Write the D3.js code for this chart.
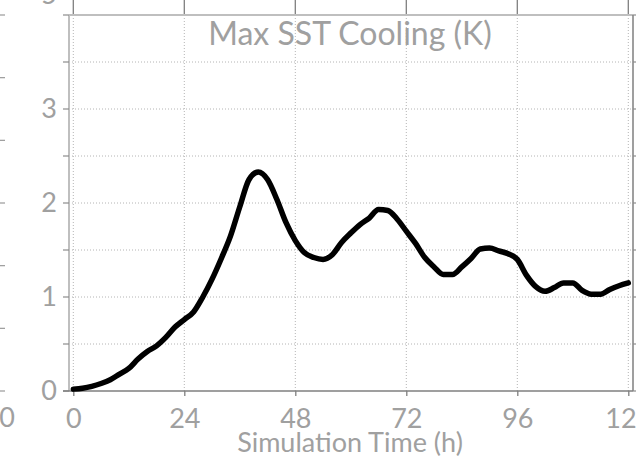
<!DOCTYPE html>
<html>
<head>
<meta charset="utf-8">
<script src="https://cdnjs.cloudflare.com/ajax/libs/d3/7.8.5/d3.min.js"></script>
<style>
  body { margin: 0; background: #fff; }
  svg { display: block; font-family: Lato, "Open Sans", sans-serif; }
</style>
</head>
<body>
<div id="chart"></div>
<script>
// Max SST cooling over simulation time
var hours = [0, 2, 4, 6, 8, 10, 12, 14, 16, 18, 20, 22, 24, 26, 28, 30, 32, 34, 36, 38,
  40, 42, 44, 46, 48, 50, 52, 54, 56, 58, 60, 62, 64, 66, 68, 70, 72, 74, 76, 78,
  80, 82, 84, 86, 88, 90, 92, 94, 96, 98, 100, 102, 104, 106, 108, 110, 112, 114, 116, 118, 120];
var cooling = [0.02, 0.03, 0.05, 0.08, 0.12, 0.18, 0.24, 0.34, 0.42, 0.48, 0.57, 0.68, 0.76, 0.84, 1.00, 1.19, 1.41, 1.65, 1.96, 2.25,
  2.33, 2.25, 2.04, 1.79, 1.60, 1.47, 1.42, 1.40, 1.45, 1.58, 1.68, 1.77, 1.84, 1.93, 1.92, 1.83, 1.70, 1.57, 1.42, 1.32,
  1.24, 1.24, 1.32, 1.41, 1.51, 1.52, 1.49, 1.46, 1.40, 1.23, 1.11, 1.06, 1.10, 1.15, 1.15, 1.07, 1.03, 1.03, 1.08, 1.12, 1.15];
var xTicks = [0, 24, 48, 72, 96, 120];
var yTicks = [0, 0.5, 1, 1.5, 2, 2.5, 3, 3.5, 4];
var yLabels = [0, 1, 2, 3];
var title = "Max SST Cooling (K)";
var xTitle = "Simulation Time (h)";

var width = 636, height = 461;
var frame = {left: 69, right: 633, top: 15, bottom: 391};
var textColor = "#a0a0a0";

var svg = d3.select("#chart").append("svg")
  .attr("width", width)
  .attr("height", height);

var x = d3.scaleLinear().domain([0, 120]).range([73.3, 628.3]);
var y = d3.scaleLinear().domain([0, 4]).range([frame.bottom, frame.top]);

// bits of the neighbouring panels that show at the edges
var nb = d3.scaleLinear().domain([0, 6]).range([frame.bottom, frame.top]);
svg.append("g").selectAll("line")
  .data(d3.range(0, 7))
  .enter().append("line")
    .attr("x1", 0).attr("x2", 5)
    .attr("y1", function(d) { return nb(d); })
    .attr("y2", function(d) { return nb(d); })
    .attr("stroke", "#9a9a9a").attr("stroke-width", 1.2);
svg.append("text")
  .attr("x", 15).attr("y", 427)
  .attr("text-anchor", "end")
  .attr("font-size", 27).attr("fill", textColor)
  .text("120");
svg.append("text")
  .attr("x", 57).attr("y", 4)
  .attr("text-anchor", "end")
  .attr("font-size", 27).attr("fill", textColor)
  .text("5");
svg.append("g").selectAll("line")
  .data(xTicks)
  .enter().append("line")
    .attr("x1", function(d) { return x(d); })
    .attr("x2", function(d) { return x(d); })
    .attr("y1", 0).attr("y2", frame.top)
    .attr("stroke", "#7f7f7f").attr("stroke-width", 1.3);

// grid
svg.append("g").selectAll("line")
  .data(yTicks.filter(function(d) { return d > 0 && d < 4; }))
  .enter().append("line")
    .attr("x1", frame.left).attr("x2", frame.right)
    .attr("y1", function(d) { return y(d); })
    .attr("y2", function(d) { return y(d); })
    .attr("stroke", "#b4b4b4").attr("stroke-width", 1)
    .attr("stroke-dasharray", "1,2");
svg.append("g").selectAll("line")
  .data(xTicks)
  .enter().append("line")
    .attr("x1", function(d) { return x(d); })
    .attr("x2", function(d) { return x(d); })
    .attr("y1", frame.top).attr("y2", frame.bottom)
    .attr("stroke", "#b4b4b4").attr("stroke-width", 1)
    .attr("stroke-dasharray", "1,2");

// frame
svg.append("line")
  .attr("x1", frame.left).attr("x2", frame.right)
  .attr("y1", frame.top).attr("y2", frame.top)
  .attr("stroke", "#bfbfbf").attr("stroke-width", 2);
svg.append("line")
  .attr("x1", frame.left).attr("x2", frame.left)
  .attr("y1", frame.top).attr("y2", frame.bottom)
  .attr("stroke", "#bfbfbf").attr("stroke-width", 2);
svg.append("line")
  .attr("x1", frame.right).attr("x2", frame.right)
  .attr("y1", frame.top).attr("y2", frame.bottom)
  .attr("stroke", "#7f7f7f").attr("stroke-width", 1.5);

// y ticks, left and right
svg.append("g").selectAll("line")
  .data(yTicks)
  .enter().append("line")
    .attr("x1", frame.left - 6).attr("x2", frame.left)
    .attr("y1", function(d) { return y(d); })
    .attr("y2", function(d) { return y(d); })
    .attr("stroke", "#8c8c8c").attr("stroke-width", 1.2);
svg.append("g").selectAll("line")
  .data(yTicks)
  .enter().append("line")
    .attr("x1", frame.right).attr("x2", width)
    .attr("y1", function(d) { return y(d); })
    .attr("y2", function(d) { return y(d); })
    .attr("stroke", "#8c8c8c").attr("stroke-width", 1.2);

// x axis
var xAxis = svg.append("g")
  .attr("transform", "translate(0," + frame.bottom + ")")
  .call(d3.axisBottom(x).tickValues(xTicks).tickSize(5).tickSizeOuter(0).tickPadding(13));
xAxis.select(".domain").remove();
xAxis.append("line")
  .attr("x1", frame.left - 6).attr("x2", frame.right)
  .attr("stroke", "#7f7f7f").attr("stroke-width", 1.5);
xAxis.selectAll(".tick line").attr("stroke", "#7f7f7f").attr("stroke-width", 1.3);
xAxis.selectAll("text")
  .attr("font-family", "Lato, sans-serif")
  .attr("font-size", 27)
  .attr("fill", textColor);

// y labels
svg.append("g").selectAll("text")
  .data(yLabels)
  .enter().append("text")
    .attr("x", 57)
    .attr("y", function(d) { return y(d); })
    .attr("dy", "0.35em")
    .attr("text-anchor", "end")
    .attr("font-size", 27)
    .attr("fill", textColor)
    .text(function(d) { return d; });

// titles
svg.append("text")
  .attr("x", 350).attr("y", 45)
  .attr("text-anchor", "middle")
  .attr("font-size", 32)
  .attr("fill", textColor)
  .text(title);
svg.append("text")
  .attr("x", 350).attr("y", 452)
  .attr("text-anchor", "middle")
  .attr("font-size", 27)
  .attr("fill", textColor)
  .text(xTitle);

// the curve
var line = d3.line()
  .curve(d3.curveMonotoneX)
  .x(function(d, i) { return x(hours[i]); })
  .y(function(d) { return y(d); });

svg.append("path")
  .datum(cooling)
  .attr("fill", "none")
  .attr("stroke", "#000")
  .attr("stroke-width", 5.5)
  .attr("stroke-linejoin", "round")
  .attr("stroke-linecap", "round")
  .attr("d", line);
</script>
</body>
</html>
